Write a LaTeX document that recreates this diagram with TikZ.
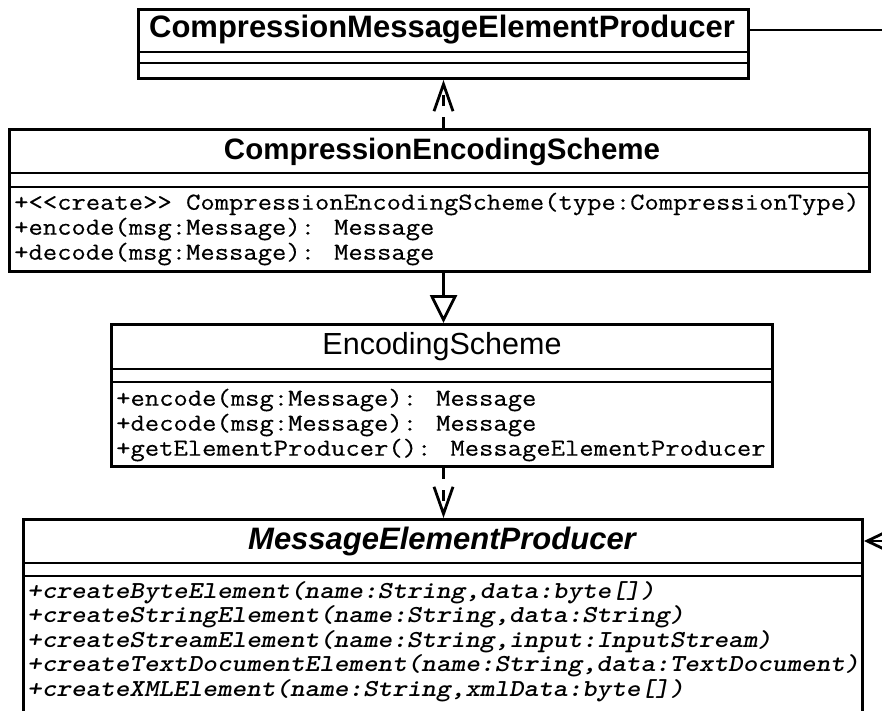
\documentclass[tikz,border=0pt]{standalone}
\usepackage{fontspec}
\setmainfont{Liberation Sans}
\newfontfamily\opfont{Latin Modern Mono}[FakeStretch=1.14, FakeBold=0.4]
\newfontfamily\opbifont{lmmonolt10-boldoblique.otf}[FakeStretch=1.14]
\usetikzlibrary{arrows.meta}

\begin{document}
\begin{tikzpicture}[x=1pt,y=-1pt,
  classbox/.style={draw, line width=3pt, anchor=north west, inner sep=0pt, fill=white},
  divider/.style={line width=2.7pt},
  classtitle/.style={inner sep=0pt, font=\bfseries\fontsize{30}{36}\selectfont},
  optext/.style={anchor=west, inner sep=0pt, font=\opfont\fontsize{24.4}{28}\selectfont},
  abstractop/.style={anchor=west, inner sep=0pt, font=\opbifont\fontsize{24.4}{28}\selectfont},
  dep/.style={line width=2.8pt, dash pattern=on 11pt off 11pt,
    -{Straight Barb[length=27pt, width=19pt]}},
  gen/.style={line width=2.8pt, -{Triangle[open, length=28pt, width=27pt, fill=white]}},
  assoc/.style={line width=2.8pt},
  navig/.style={line width=2.8pt, -{Straight Barb[length=26pt, width=25pt]}}]

\useasboundingbox (0,0) rectangle (882,710);
\clip (0,0) rectangle (882,710);
\fill[white] (0,0) rectangle (882,710);

% CompressionMessageElementProducer
\node[classbox, minimum width=610pt, minimum height=69pt] (cmep) at (137,8) {};
\draw[divider] (137,52) -- (747,52);
\draw[divider] (137,63) -- (747,63);
\node[classtitle, font=\bfseries\fontsize{31}{36}\selectfont] (cmepT) at (442,30) {CompressionMessageElementProducer};

% CompressionEncodingScheme
\node[classbox, minimum width=860pt, minimum height=142pt] (ces) at (8,128) {};
\draw[divider] (8,173) -- (868,173);
\draw[divider] (8,187) -- (868,187);
\node[classtitle, font=\bfseries\fontsize{29.5}{36}\selectfont] (cesT) at (442,152) {CompressionEncodingScheme};
\node[optext] (ces1) at (14,204) {+<\kern0pt<create>\kern0pt> CompressionEncodingScheme(type:CompressionType)};
\node[optext] (ces2) at (14,229) {+encode(msg:Message): Message};
\node[optext] (ces3) at (14,254) {+decode(msg:Message): Message};

% EncodingScheme
\node[classbox, minimum width=661pt, minimum height=142pt] (es) at (110,323) {};
\draw[divider] (110,369) -- (771,369);
\draw[divider] (110,382) -- (771,382);
\node[classtitle, font=\fontsize{30.5}{36}\selectfont] (esT) at (442,347) {EncodingScheme};
\node[optext] (es1) at (116,400) {+encode(msg:Message): Message};
\node[optext] (es2) at (116,425) {+decode(msg:Message): Message};
\node[optext] (es3) at (116,450) {+getElementProducer(): MessageElementProducer};

% MessageElementProducer (abstract)
\node[classbox, minimum width=839pt, minimum height=212pt] (mep) at (22,518) {};
\draw[divider] (22,563) -- (861,563);
\draw[divider] (22,576) -- (861,576);
\node[classtitle, font=\bfseries\itshape\fontsize{31}{36}\selectfont] (mepT) at (442,541) {MessageElementProducer};
\node[abstractop] (mep1) at (27,593) {+createByteElement(name:String,data:byte[])};
\node[abstractop] (mep2) at (27,617) {+createStringElement(name:String,data:String)};
\node[abstractop] (mep3) at (27,642) {+createStreamElement(name:String,input:InputStream)};
\node[abstractop] (mep4) at (27,666) {+createTextDocumentElement(name:String,data:TextDocument)};
\node[abstractop] (mep5) at (27,691) {+createXMLElement(name:String,xmlData:byte[])};

% relations
\draw[dep] (cmep.south |- ces.north) -- (cmep.south);
\draw[gen] (cmep.south |- ces.south) -- (cmep.south |- es.north);
\draw[dep] (cmep.south |- es.south) -- (cmep.south |- mep.north);

\coordinate (offA) at (900,30);
\draw[assoc] (cmepT -| cmep.east) -- (offA);
\coordinate (offB) at (920,541);
\draw[navig] (offB) -- (mepT -| mep.east);
\end{tikzpicture}
\end{document}
